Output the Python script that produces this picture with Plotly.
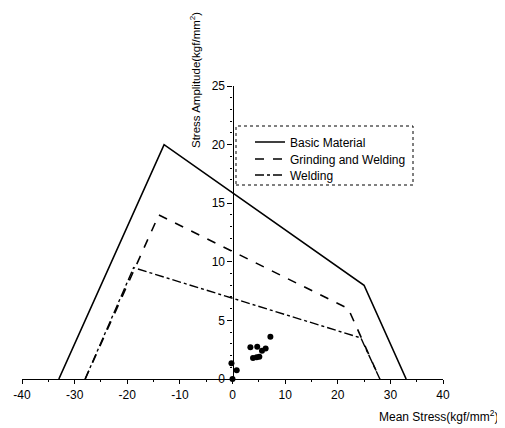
import plotly.graph_objects as go

# Data
basic_x = [-33, -13, 25, 33]
basic_y = [0, 20, 8, 0]
grind_x = [-28, -14, 22, 28]
grind_y = [0, 14, 6, 0]
weld_x = [-28, -18.8, 24.4, 28]
weld_y = [0, 9.5, 3.5, 0]
pts_x = [0, -0.2, 0.8, 3.4, 4.7, 3.9, 4.6, 5.1, 5.6, 6.3, 7.2]
pts_y = [0, 1.35, 0.75, 2.7, 2.75, 1.8, 1.85, 1.9, 2.4, 2.6, 3.6]
x_ticks = [-40, -30, -20, -10, 0, 10, 20, 30, 40]
x_tick_text = ["-40", "-30", "-20", "-10", "0", "10", "20", "30", "40"]
y_ticks = [0, 5, 10, 15, 20, 25]

OFF = 8  # page body margin
W, H = 505 - OFF, 428 - OFF
L, R, T, B = 22 - OFF, 62, 86 - OFF, 49
pw, ph = W - L - R, H - T - B

def px(x):
    return (x - OFF - L) / pw

def py(y):
    return (H - B - (y - OFF)) / ph

FAM = "Liberation Sans, Arial, sans-serif"
tick_font = dict(family=FAM, size=12, color="black")
leg_font = dict(family=FAM, size=12, color="black")
xtitle_font = dict(family=FAM, size=12, color="black")
ytitle_font = dict(family=FAM, size=11.5, color="black")

fig = go.Figure()
fig.add_trace(go.Scatter(x=basic_x, y=basic_y, mode="lines", name="Basic Material",
                         line=dict(color="black", width=1.6), cliponaxis=False,
                         legend="legend"))
fig.add_trace(go.Scatter(x=grind_x, y=grind_y, mode="lines", name="Grinding and Welding",
                         line=dict(color="black", width=1.6, dash="dash"), cliponaxis=False,
                         legend="legend2"))
fig.add_trace(go.Scatter(x=weld_x, y=weld_y, mode="lines", name="Welding",
                         line=dict(color="black", width=1.4, dash="dashdot"), cliponaxis=False,
                         legend="legend3"))
fig.add_trace(go.Scatter(x=pts_x, y=pts_y, mode="markers", showlegend=False,
                         marker=dict(color="black", size=6), cliponaxis=False))

def leg(row_center):
    return dict(x=px(250), y=py(row_center - 10.5), xanchor="left", yanchor="top",
                bgcolor="rgba(0,0,0,0)", borderwidth=0, font=leg_font, itemwidth=30)

fig.update_layout(
    width=W, height=H,
    margin=dict(l=L, r=R, t=T, b=B, autoexpand=False),
    paper_bgcolor="white", plot_bgcolor="white",
    font=tick_font,
    showlegend=True,
    legend=leg(138), legend2=leg(155), legend3=leg(171),
    xaxis=dict(range=[-40, 40], tickvals=x_ticks, ticktext=x_tick_text, tickfont=tick_font,
               showgrid=False, zeroline=False, showline=True, linecolor="black", linewidth=1.2,
               ticks="outside", ticklen=4, tickcolor="black",
               minor=dict(dtick=5, ticks="outside", ticklen=2, tickcolor="black"),
               anchor="y", fixedrange=True),
    yaxis=dict(range=[0, 25], tickvals=y_ticks, tickfont=tick_font,
               showgrid=False, zeroline=False, showline=True, linecolor="black", linewidth=1.2,
               ticks="outside", ticklen=5, tickcolor="black",
               minor=dict(dtick=1, ticks="outside", ticklen=2, tickcolor="black"),
               anchor="free", position=0.5, fixedrange=True),
    shapes=[dict(type="rect", xref="paper", yref="paper",
                 x0=px(236), x1=px(413), y0=py(185), y1=py(126),
                 line=dict(color="black", width=1, dash="dot"))],
    annotations=[
        dict(text="Stress Amplitude(kgf/mm<sup>2</sup>)", textangle=-90,
             xref="paper", yref="paper", x=px(195), y=py(150),
             xanchor="center", yanchor="bottom", showarrow=False, font=ytitle_font),
        dict(text="Mean Stress(kgf/mm<sup>2</sup>)",
             xref="paper", yref="paper", x=px(500), y=py(416),
             xanchor="right", yanchor="middle", showarrow=False, font=xtitle_font),
    ],
)

fig.write_html("out.html")
